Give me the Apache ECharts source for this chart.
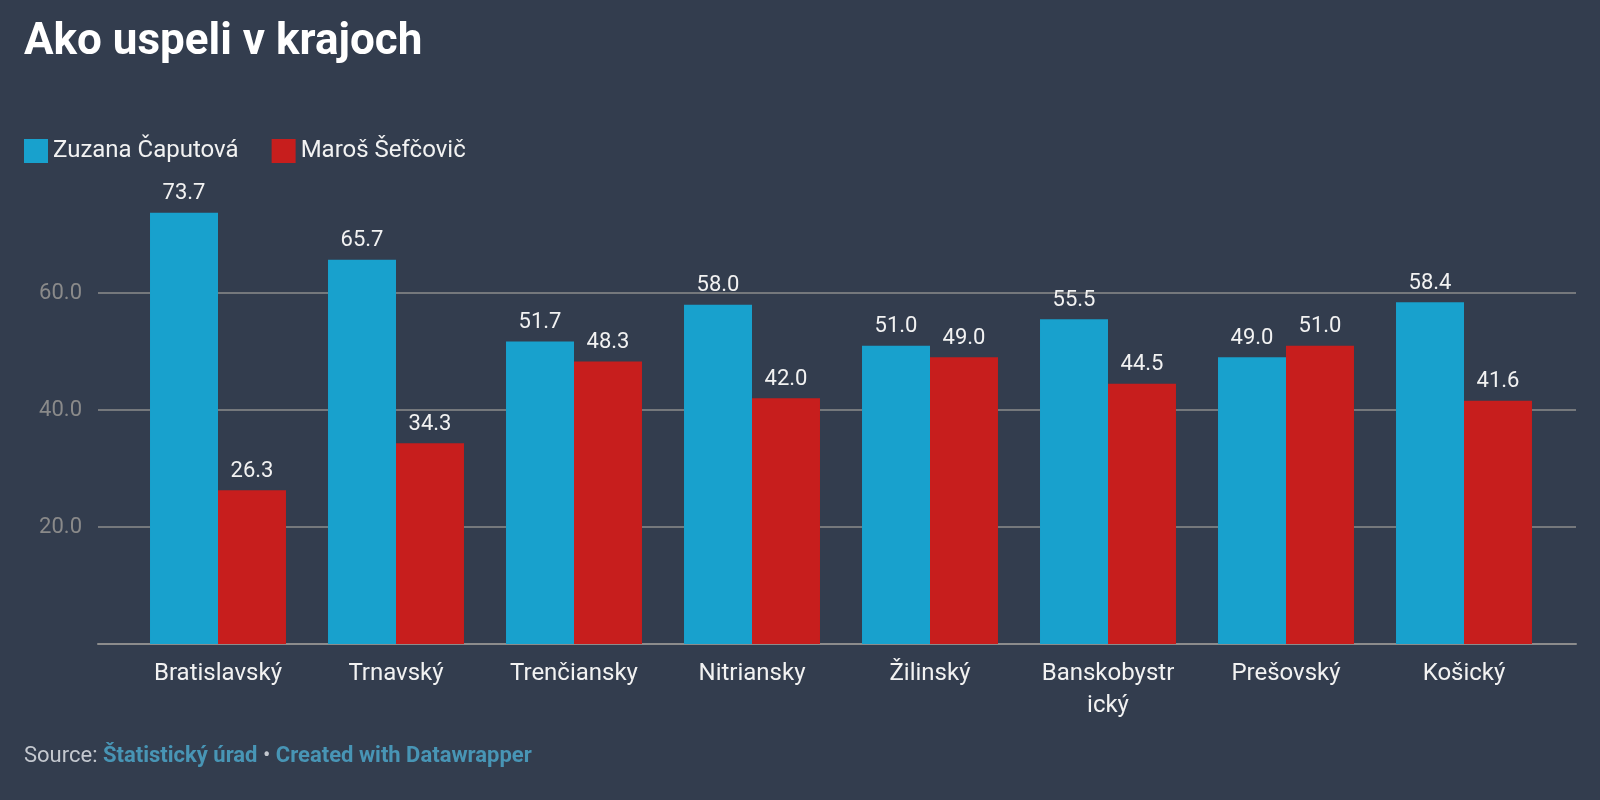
<!DOCTYPE html>
<html>
<head>
<meta charset="utf-8">
<script src="https://cdn.jsdelivr.net/npm/echarts@6/dist/echarts.min.js"></script>
<style>
html,body{margin:0;padding:0;background:#333d4e;}
#chart{width:1600px;height:800px;}
</style>
</head>
<body>
<div id="chart"></div>
<script>
const categories = ['Bratislavský','Trnavský','Trenčiansky','Nitriansky','Žilinský','Banskobystrický','Prešovský','Košický'];
const caputova = [73.7, 65.7, 51.7, 58.0, 51.0, 55.5, 49.0, 58.4];
const sefcovic = [26.3, 34.3, 48.3, 42.0, 49.0, 44.5, 51.0, 41.6];
const seriesNames = ['Zuzana Čaputová', 'Maroš Šefčovič'];
const yTicks = [0, 20, 40, 60, 80];

const FONT = 'Roboto, "Noto Sans", sans-serif';
const chart = echarts.init(document.getElementById('chart'));
const TOP = 176, BOTTOM = 156;
const labelStyle = {
  show: true, position: 'top', distance: 8,
  color: '#f2f2f2', fontSize: 22, fontFamily: FONT,
  formatter: p => p.value.toFixed(1)
};
chart.setOption({
  backgroundColor: '#333d4e',
  textStyle: { fontFamily: FONT },
  title: [
    { text: 'Ako uspeli v krajoch', left: 19, top: 16,
      textStyle: { color: '#ffffff', fontSize: 44, fontWeight: 'bold', fontFamily: FONT } },
    { text: 'Source: {b|Štatistický úrad} • {b|Created with Datawrapper}', left: 19, top: 740,
      textStyle: { color: '#c4c8cf', fontSize: 22, fontWeight: 'normal', fontFamily: FONT,
        rich: { b: { color: '#4895b5', fontWeight: 'bold', fontSize: 22, fontFamily: FONT } } } }
  ],
  legend: {
    left: 24, top: 139, padding: 0, itemWidth: 24, itemHeight: 24, itemGap: 33,
    icon: 'rect',
    textStyle: { color: '#f2f2f2', fontSize: 24, fontFamily: FONT },
    data: seriesNames
  },
  grid: [
    { left: 129, right: 47, top: TOP, bottom: BOTTOM },
    { left: 98, right: 24, top: TOP, bottom: BOTTOM }
  ],
  xAxis: [
    { type: 'category', gridIndex: 0, data: categories,
      axisLine: { show: false }, axisTick: { show: false },
      axisLabel: { color: '#f2f2f2', fontSize: 24, fontFamily: FONT, margin: 14, lineHeight: 32,
        interval: 0,
        formatter: v => v.length > 13 ? v.slice(0, 11) + '\n' + v.slice(11) : v } },
    { type: 'value', gridIndex: 1, min: 0, max: 1,
      axisLine: { show: true, lineStyle: { color: '#8c8c8c', width: 2 } },
      axisTick: { show: false }, axisLabel: { show: false }, splitLine: { show: false } }
  ],
  yAxis: [
    { type: 'value', gridIndex: 0, min: yTicks[0], max: yTicks[yTicks.length-1], interval: 20, show: false },
    { type: 'value', gridIndex: 1, min: yTicks[0], max: yTicks[yTicks.length-1], interval: 20,
      axisLine: { show: false }, axisTick: { show: false },
      axisLabel: { color: '#8a8a8a', fontSize: 22, fontFamily: FONT, margin: 16,
        showMinLabel: false, showMaxLabel: false,
        formatter: v => v.toFixed(1) },
      splitLine: { show: true, showMinLine: false, showMaxLine: false,
        lineStyle: { color: '#8c8c8c', width: 1.5 } } }
  ],
  series: [
    { name: seriesNames[0], type: 'bar', xAxisIndex: 0, yAxisIndex: 0, data: caputova,
      itemStyle: { color: '#18a1cd' }, barGap: '0%', barCategoryGap: '23.6%', label: labelStyle,
      z: 3 },
    { name: seriesNames[1], type: 'bar', xAxisIndex: 0, yAxisIndex: 0, data: sefcovic,
      itemStyle: { color: '#c71e1d' }, barGap: '0%', barCategoryGap: '23.6%', label: labelStyle,
      z: 3 }
  ]
});
</script>
</body>
</html>
